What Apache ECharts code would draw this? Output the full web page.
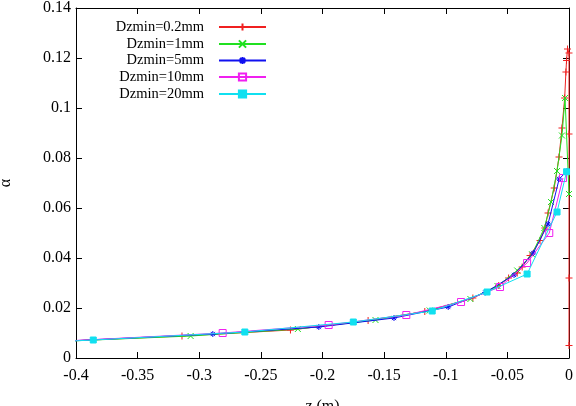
<!DOCTYPE html>
<html>
<head>
<meta charset="utf-8">
<script src="https://cdn.jsdelivr.net/npm/echarts@6/dist/echarts.min.js"></script>
<style>html,body{margin:0;padding:0;background:#fff}#c{width:576px;height:406px}</style>
</head>
<body>
<div id="c"></div>
<script>
// Data (z in m, alpha)
const seriesNames = ['Dzmin=0.2mm', 'Dzmin=1mm', 'Dzmin=5mm', 'Dzmin=10mm', 'Dzmin=20mm'];
const z02 = [-0.42, -0.314, -0.226, -0.163, -0.117, -0.078, -0.057, -0.049, -0.042, -0.038, -0.0316, -0.0235, -0.0195, -0.017, -0.012, -0.0081, -0.0057, -0.0035, -0.0025, -0.002, -0.0012, 0, 0, 0, 0];
const a02 = [0.0065, 0.0088, 0.0112, 0.015, 0.0186, 0.024, 0.029, 0.032, 0.034, 0.0364, 0.041, 0.047, 0.052, 0.058, 0.068, 0.0804, 0.092, 0.104, 0.1144, 0.119, 0.1236, 0.122, 0.0896, 0.032, 0.005];
const z1 = [-0.42, -0.307, -0.22, -0.157, -0.113, -0.080, -0.058, -0.042, -0.030, -0.020, -0.0146, -0.0097, -0.0057, -0.0032, 0];
const a1 = [0.0065, 0.0088, 0.0116, 0.0152, 0.019, 0.0236, 0.0288, 0.035, 0.0415, 0.052, 0.0624, 0.0748, 0.089, 0.104, 0.0656];
const z5 = [-0.42, -0.289, -0.203, -0.142, -0.098, -0.068, -0.0446, -0.029, -0.017, -0.008, -0.0016];
const a5 = [0.0065, 0.0096, 0.0124, 0.016, 0.0204, 0.0262, 0.0332, 0.042, 0.0536, 0.0716, 0.0748];
const z10 = [-0.42, -0.281, -0.195, -0.132, -0.0876, -0.056, -0.034, -0.016, -0.0049];
const a10 = [0.0065, 0.010, 0.0132, 0.0172, 0.0224, 0.0284, 0.038, 0.050, 0.072];
const z20 = [-0.42, -0.386, -0.263, -0.175, -0.111, -0.0665, -0.034, -0.0097, -0.002];
const a20 = [0.0064, 0.0072, 0.0104, 0.0144, 0.0188, 0.0264, 0.0336, 0.0584, 0.0745];
const xTicks = { min: -0.4, max: 0, interval: 0.05 };
const yTicks = { min: 0, max: 0.14, interval: 0.02 };

const FONT = "'Liberation Serif', 'Times New Roman', serif";
const colors = ['#f02020', '#20e020', '#1010f0', '#f020f0', '#10e0f0'];
const PLUS = 'path://M0,5L10,5M5,0L5,10';
const CROSS = 'path://M0,0L10,10M0,10L10,0';
const STAR = 'path://M0,5L10,5M5,0L5,10M1.5,1.5L8.5,8.5M1.5,8.5L8.5,1.5';
const symbols = [PLUS, CROSS, STAR, 'rect', 'rect'];
const symSizes = [7, 6, 6, 7, 6];
const fills = [colors[0], colors[1], colors[2], 'rgba(255,255,255,0)', colors[4]];
const zs = [z02, z1, z5, z10, z20];
const as = [a02, a1, a5, a10, a20];

function pairs(zz, aa) { return zz.map((v, i) => [v, aa[i]]); }

const series = seriesNames.map((n, i) => ({
  name: n,
  type: 'line',
  data: pairs(zs[i], as[i]),
  symbol: symbols[i],
  symbolSize: symSizes[i],
  showAllSymbol: true,
  clip: true,
  lineStyle: { color: colors[i], width: 1 },
  itemStyle: { color: fills[i], borderColor: colors[i], borderWidth: 1 },
  emphasis: { disabled: true },
  animation: false,
  z: 2 + i
}));

const legendRows = [24, 41, 57.5, 74, 91];
const legends = seriesNames.map((n, i) => ({
  data: [n],
  right: 309,
  top: legendRows[i] - 4.5,
  orient: 'vertical',
  align: 'right',
  itemWidth: 47,
  itemHeight: 9,
  padding: 0,
  selectedMode: false,
  textStyle: { fontFamily: FONT, fontSize: 14.5, color: '#000', padding: [0, 10, 0, 0] }
}));

const axisCommon = {
  axisLine: { show: true, onZero: false, lineStyle: { color: '#000', width: 1 } },
  axisTick: { show: true, inside: true, length: 6, lineStyle: { color: '#000' } },
  splitLine: { show: false },
  axisLabel: { fontFamily: FONT, fontSize: 16, color: '#000' }
};

const chart = echarts.init(document.getElementById('c'), null, { renderer: 'canvas' });
chart.setOption({
  animation: false,
  backgroundColor: '#fff',
  grid: { left: 76, right: 7, top: 8, bottom: 48, containLabel: false, outerBoundsMode: 'none' },
  legend: legends,
  xAxis: [
    Object.assign({}, axisCommon, {
      type: 'value', position: 'bottom', min: xTicks.min, max: xTicks.max, interval: xTicks.interval,
      name: 'z (m)', nameLocation: 'middle', nameGap: 41,
      nameTextStyle: { fontFamily: FONT, fontSize: 16, color: '#000' },
      axisLabel: Object.assign({}, axisCommon.axisLabel, { margin: 10 })
    }),
    Object.assign({}, axisCommon, {
      type: 'value', position: 'top', min: xTicks.min, max: xTicks.max, interval: xTicks.interval,
      axisLabel: { show: false }
    })
  ],
  yAxis: [
    Object.assign({}, axisCommon, {
      type: 'value', position: 'left', min: yTicks.min, max: yTicks.max, interval: yTicks.interval,
      name: 'α', nameLocation: 'middle', nameGap: 62, nameRotate: 90,
      nameTextStyle: { fontFamily: FONT, fontSize: 16, color: '#000' },
      axisLabel: Object.assign({}, axisCommon.axisLabel, { margin: 5 })
    }),
    Object.assign({}, axisCommon, {
      type: 'value', position: 'right', min: yTicks.min, max: yTicks.max, interval: yTicks.interval,
      axisLabel: { show: false }
    })
  ],
  series: series
});
</script>
</body>
</html>
